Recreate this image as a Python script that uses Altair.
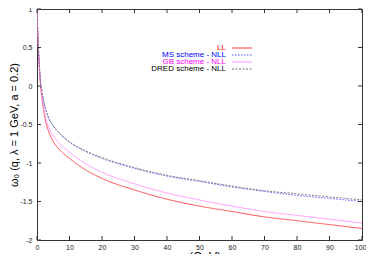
import altair as alt
import pandas as pd

# ---- data ----
q = [0, 0.1, 0.2, 0.4, 0.7, 1.1, 1.5, 2, 2.7, 3.5, 5, 7, 10, 15, 20, 30, 40, 50, 60, 70, 80, 90, 100]
ll = [1.0, 0.85, 0.72, 0.50, 0.25, 0.0, -0.15, -0.30, -0.47, -0.58, -0.72, -0.83, -0.94, -1.09, -1.20,
      -1.35, -1.47, -1.56, -1.63, -1.70, -1.75, -1.80, -1.85]
ms = [1.0, 0.87, 0.74, 0.54, 0.30, 0.05, -0.07, -0.19, -0.31, -0.41, -0.52, -0.62, -0.73, -0.85, -0.94,
      -1.07, -1.17, -1.24, -1.31, -1.37, -1.42, -1.46, -1.50]
gb = [1.0, 0.86, 0.73, 0.52, 0.27, 0.02, -0.12, -0.26, -0.42, -0.52, -0.65, -0.75, -0.86, -1.01, -1.12,
      -1.27, -1.39, -1.48, -1.56, -1.63, -1.68, -1.73, -1.78]
dred = [1.0, 0.87, 0.74, 0.54, 0.30, 0.055, -0.065, -0.185, -0.305, -0.405, -0.515, -0.615, -0.725, -0.845, -0.93,
        -1.06, -1.16, -1.23, -1.30, -1.36, -1.40, -1.44, -1.48]

labels = ["LL", "MS scheme - NLL", "GB scheme - NLL", "DRED scheme - NLL"]
line_colors = ["#ff3a3a", "#5050ff", "#ff90ff", "#707070"]
text_colors = ["#ff0000", "#0000ff", "#ff00ff", "#000000"]
dashes = [[1, 0], [1.5, 1.5], [1, 0], [2, 1.5]]

x_ticks = [0, 10, 20, 30, 40, 50, 60, 70, 80, 90, 100]
y_ticks = [-2, -1.5, -1, -0.5, 0, 0.5, 1]

W, H = 325, 231
FONT = "Liberation Sans"
X_TITLE = "q (GeV)"
Y_TITLE = "ω₀ (q, λ = 1 GeV, a = 0.2)"

series = [ll, ms, gb, dred]
rows = []
for lab, vals in zip(labels, series):
    for qq, v in zip(q, vals):
        rows.append({"q": qq, "w": v, "series": lab})
df = pd.DataFrame(rows)

xs = alt.Scale(domain=[0, 100], nice=False, zero=False)
ys = alt.Scale(domain=[-2, 1], nice=False, zero=False)

x_axis = alt.Axis(values=x_ticks, title=X_TITLE, tickSize=0, labelPadding=3,
                  labelFontSize=7, labelFont=FONT, labelColor="#222",
                  labelOverlap=False, labelFlush=False,
                  labelAlign={"condition": {"test": "datum.value == 100", "value": "right"}, "value": "center"},
                  labelOffset={"condition": {"test": "datum.value == 100", "value": 4}, "value": 0},
                  titleFont=FONT, titleFontSize=12, titleFontWeight="normal",
                  titlePadding=1, grid=False, domain=False)
y_axis = alt.Axis(values=y_ticks, title=Y_TITLE, tickSize=0,
                  labelPadding=5, labelFontSize=7, labelFont=FONT, labelColor="#222",
                  labelOverlap=False, labelFlush=False,
                  labelExpr="'' + datum.value",
                  titleFont=FONT, titleFontSize=11, titleFontWeight="normal",
                  titlePadding=0, grid=False, domain=False)

base = alt.Chart(df)
layers = []
for i, lab in enumerate(labels):
    layers.append(
        base.transform_filter(alt.datum.series == lab)
        .mark_line(color=line_colors[i], strokeWidth=0.9, strokeDash=dashes[i], interpolate="monotone", clip=True)
        .encode(
            x=alt.X("q:Q", scale=xs, axis=x_axis, title=X_TITLE),
            y=alt.Y("w:Q", scale=ys, axis=y_axis, title=Y_TITLE),
        )
    )

# inward ticks (gnuplot style) on all four sides
xt = pd.DataFrame({"t": x_ticks})
yt = pd.DataFrame({"t": y_ticks})
tk = 4
tick_layers = [
    alt.Chart(xt).mark_rule(color="#333", strokeWidth=1).encode(
        x=alt.X("t:Q", scale=xs, axis=x_axis, title=X_TITLE), y=alt.value(H), y2=alt.value(H - tk)),
    alt.Chart(xt).mark_rule(color="#333", strokeWidth=1).encode(
        x=alt.X("t:Q", scale=xs, axis=x_axis, title=X_TITLE), y=alt.value(0), y2=alt.value(tk)),
    alt.Chart(yt).mark_rule(color="#333", strokeWidth=1).encode(
        y=alt.Y("t:Q", scale=ys, axis=y_axis, title=Y_TITLE), x=alt.value(0), x2=alt.value(tk)),
    alt.Chart(yt).mark_rule(color="#333", strokeWidth=1).encode(
        y=alt.Y("t:Q", scale=ys, axis=y_axis, title=Y_TITLE), x=alt.value(W), x2=alt.value(W - tk)),
]

# legend (gnuplot style: right-aligned coloured text, line sample to the right)
leg_layers = []
leg_df = pd.DataFrame({"label": labels})
for i, lab in enumerate(labels):
    yy = 39 + i * 7
    d = leg_df[leg_df.label == lab]
    leg_layers.append(
        alt.Chart(d).mark_text(align="right", baseline="middle", font=FONT, fontSize=8,
                               color=text_colors[i]).encode(
            text="label:N", x=alt.value(189), y=alt.value(yy))
    )
    leg_layers.append(
        alt.Chart(d).mark_rule(color=line_colors[i], strokeWidth=1, strokeDash=dashes[i]).encode(
            x=alt.value(195), x2=alt.value(215), y=alt.value(yy))
    )

chart = alt.layer(*layers, *tick_layers, *leg_layers).properties(
    width=W, height=H,
    autosize=alt.AutoSizeParams(type="none"),
    padding={"left": 29, "top": 1, "right": 4, "bottom": 14},
).configure_view(stroke="#333", strokeWidth=1)

chart.save("out.html", embed_options={"renderer": "svg", "actions": False})
